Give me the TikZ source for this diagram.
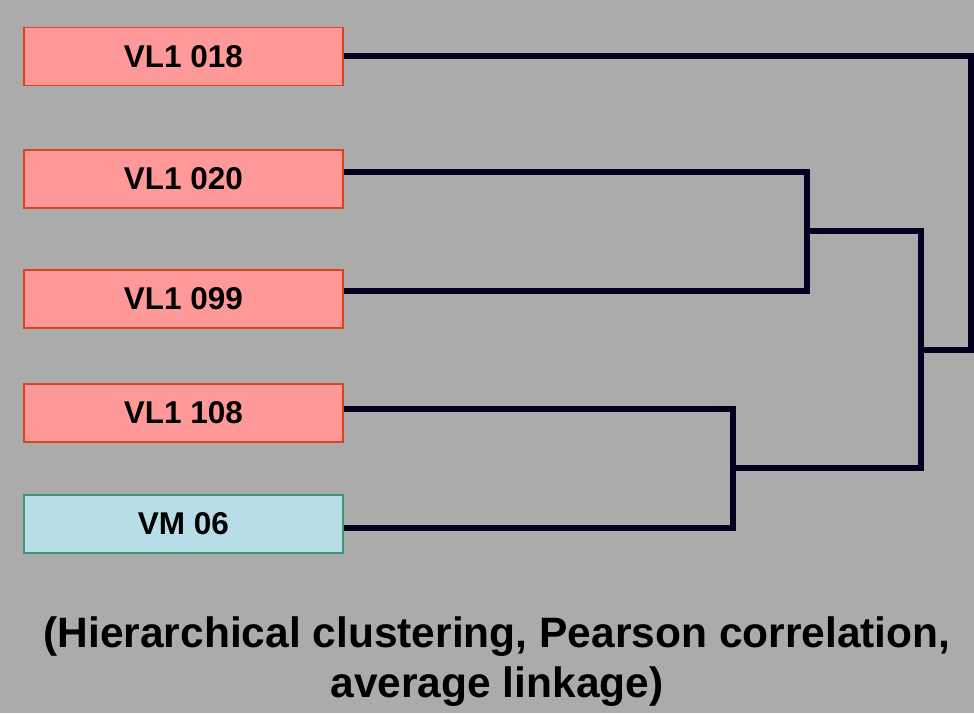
\documentclass[tikz,border=0pt]{standalone}
\usepackage{fontspec}
\setmainfont{Liberation Sans}
\definecolor{bg}{HTML}{ABABAB}
\definecolor{pinkfill}{HTML}{FF9999}
\definecolor{pinkedge}{HTML}{D9441C}
\definecolor{bluefill}{HTML}{B7DDE8}
\definecolor{blueedge}{HTML}{3E9A6E}
\definecolor{treeline}{HTML}{00001E}
\begin{document}
\begin{tikzpicture}[x=1pt,y=-1pt,
  leafbox/.style={rectangle, minimum width=319pt, minimum height=58pt, inner sep=0pt, line width=1.6pt, font=\fontsize{31.5}{36}\selectfont\bfseries},
  redleaf/.style={leafbox, fill=pinkfill, draw=pinkedge},
  blueleaf/.style={leafbox, fill=bluefill, draw=blueedge},
  branch/.style={draw=treeline, line width=6pt, line join=miter},
  captext/.style={font=\fontsize{42.5}{50}\selectfont\bfseries, inner sep=0pt, anchor=base}]
\fill[bg] (0,0) rectangle (974,713);
\useasboundingbox (0,0) rectangle (974,713);

\node[redleaf] (b1) at (183.5,56.5) {VL1 018};
\node[redleaf] (b2) at (183.5,179) {VL1 020};
\node[redleaf] (b3) at (183.5,299) {VL1 099};
\node[redleaf] (b4) at (183.5,413) {VL1 108};
\node[blueleaf] (b5) at (183.5,524) {VM 06};

\coordinate (m23) at (807,231);
\coordinate (m45) at (733,468);
\coordinate (m2345) at (921,350);
\coordinate (root) at (971,350);

% leaves 2 and 3
\draw[branch] (b2.east |- 0,171.5) -| (m23 |- 0,290.5) -- (b3.east |- 0,290.5);
% leaves 4 and 5
\draw[branch] (b4.east |- 0,409) -| (m45 |- 0,528) -- (b5.east |- 0,528);
% join of the two pairs
\draw[branch] (m23) -- (m2345 |- m23) -- (m2345 |- m45) -- (m45);
% root
\draw[branch] (b1.east |- 0,55.5) -| (root) -- (m2345);

\node[captext] (cap1) at (497,647) {(Hierarchical clustering, Pearson correlation,};
\node[captext] (cap2) at (497,697) {average linkage)};
\end{tikzpicture}
\end{document}
